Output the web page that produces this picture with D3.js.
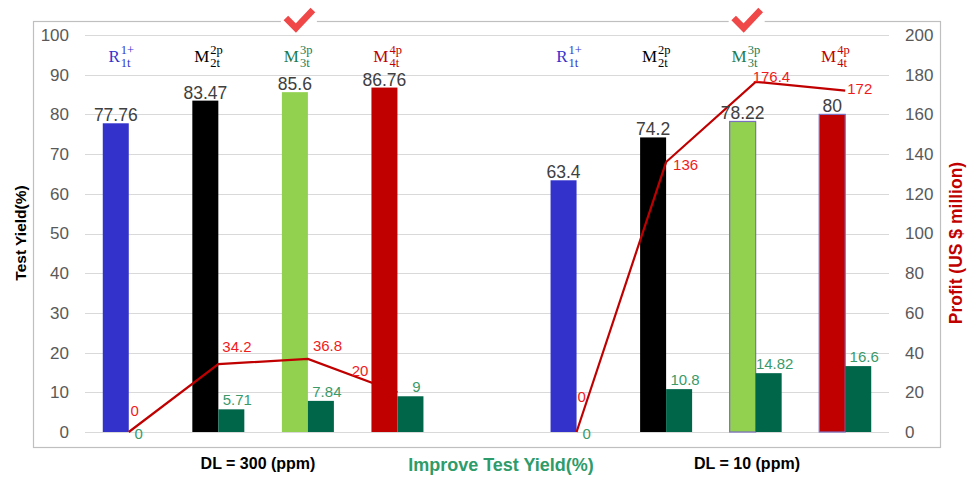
<!DOCTYPE html>
<html>
<head>
<meta charset="utf-8">
<script src="https://cdn.jsdelivr.net/npm/d3@7"></script>
<style>
  body { margin: 0; background: #fff; }
  svg { font-family: "Liberation Sans", Arial, sans-serif; }
</style>
</head>
<body>
<script>
// slots: 4 models at DL=300, an empty gap, 4 models at DL=10
const slots = ["300-R", "300-M2", "300-M3", "300-M4", "gap", "10-R", "10-M2", "10-M3", "10-M4"];
const testYield = [77.76, 83.47, 85.6, 86.76, null, 63.4, 74.2, 78.22, 80];
const improveYield = [0, 5.71, 7.84, 9, null, 0, 10.8, 14.82, 16.6];
const profit = [0, 34.2, 36.8, 20, null, 0, 136, 176.4, 172];
const modelBase = ["R", "M", "M", "M", null, "R", "M", "M", "M"];
const modelSup = ["1+", "2p", "3p", "4p", null, "1+", "2p", "3p", "4p"];
const modelSub = ["1t", "2t", "3t", "4t", null, "1t", "2t", "3t", "4t"];
const checked = ["300-M3", "10-M3"];
const yieldTicks = [0, 10, 20, 30, 40, 50, 60, 70, 80, 90, 100];
const profitTicks = [0, 20, 40, 60, 80, 100, 120, 140, 160, 180, 200];

const w = 975, h = 479;
const barColors = ["#3333cc", "#000000", "#92d050", "#c00000", null, "#3333cc", "#000000", "#92d050", "#c00000"];
const labelColors = ["#3333cc", "#000000", "#1e7b50", "#c00000", null, "#3333cc", "#000000", "#1e7b50", "#c00000"];
const outlined = [false, false, false, false, false, false, false, true, true];
// nudges for the profit labels, as excel left them
const profitLabelPos = [[6, -16, "middle"], [4, -12, "start"], [5, -8, "start"], [-29, -16, "end"], null,
  [5, -30, "middle"], [7, 8, "start"], [-3, 0, "start"], [2, 3, "start"]];

const svg = d3.select("body").append("svg")
  .attr("width", w)
  .attr("height", h);

const x = d3.scaleBand().domain(slots).range([84, 890]).padding(0);
const y = d3.scaleLinear().domain([0, 100]).range([432, 35]);
const y2 = d3.scaleLinear().domain([0, 200]).range([432, 35]);
const bw = 26;
const cx = (i) => x(slots[i]) + x.bandwidth() / 2;

// frame
svg.append("rect")
  .attr("x", 33.5).attr("y", 21.5)
  .attr("width", 907).attr("height", 426)
  .attr("fill", "none")
  .attr("stroke", "#bfbfbf")
  .attr("stroke-width", 1.2);

// gridlines
svg.append("g").selectAll("line")
  .data(yieldTicks)
  .enter().append("line")
    .attr("x1", 85).attr("x2", 889)
    .attr("y1", (d) => Math.round(y(d)) + 0.5)
    .attr("y2", (d) => Math.round(y(d)) + 0.5)
    .attr("stroke", "#d9d9d9");

const yAxis = d3.axisLeft(y).tickValues(yieldTicks).tickSize(0).tickPadding(0);
const gy = svg.append("g").attr("transform", "translate(69,0)").call(yAxis);
gy.select(".domain").remove();
gy.selectAll("text").attr("font-size", 17).attr("fill", "#595959").attr("font-family", "Liberation Sans, Arial");

const y2Axis = d3.axisRight(y2).tickValues(profitTicks).tickSize(0).tickPadding(0);
const gy2 = svg.append("g").attr("transform", "translate(905,0)").call(y2Axis);
gy2.select(".domain").remove();
gy2.selectAll("text").attr("font-size", 17).attr("fill", "#595959").attr("font-family", "Liberation Sans, Arial");

const idx = d3.range(slots.length).filter((i) => testYield[i] != null);

// test yield bars
svg.append("g").selectAll("rect")
  .data(idx)
  .enter().append("rect")
    .attr("x", (i) => cx(i) - bw)
    .attr("y", (i) => y(testYield[i]))
    .attr("width", bw)
    .attr("height", (i) => y(0) - y(testYield[i]))
    .attr("fill", (i) => barColors[i])
    .attr("stroke", (i) => outlined[i] ? "#7b6fc0" : "none")
    .attr("stroke-width", 1.2);

// improve bars
svg.append("g").selectAll("rect")
  .data(idx.filter((i) => improveYield[i] > 0))
  .enter().append("rect")
    .attr("x", (i) => cx(i))
    .attr("y", (i) => y(improveYield[i]))
    .attr("width", bw)
    .attr("height", (i) => y(0) - y(improveYield[i]))
    .attr("fill", "#00664a");

// profit line, broken at the gap
const line = d3.line()
  .defined((i) => profit[i] != null)
  .x((i) => cx(i))
  .y((i) => y2(profit[i]));
svg.append("path")
  .datum(d3.range(slots.length))
  .attr("d", line)
  .attr("fill", "none")
  .attr("stroke", "#c00000")
  .attr("stroke-width", 2.2);

// value labels
svg.append("g").selectAll("text")
  .data(idx)
  .enter().append("text")
    .attr("x", (i) => cx(i) - bw / 2)
    .attr("y", (i) => y(testYield[i]) - 2)
    .attr("text-anchor", "middle")
    .attr("font-size", 17.5)
    .attr("fill", "#404040")
    .text((i) => testYield[i]);

svg.append("g").selectAll("text")
  .data(idx)
  .enter().append("text")
    .attr("x", (i) => cx(i) + bw / 2 + (improveYield[i] > 0 ? 6 : -3))
    .attr("y", (i) => improveYield[i] > 0 ? y(improveYield[i]) - 4 : y(0) + 7)
    .attr("text-anchor", "middle")
    .attr("font-size", 15)
    .attr("fill", "#3a9a6a")
    .text((i) => improveYield[i]);

svg.append("g").selectAll("text")
  .data(idx)
  .enter().append("text")
    .attr("x", (i) => cx(i) + profitLabelPos[i][0])
    .attr("y", (i) => y2(profit[i]) + profitLabelPos[i][1])
    .attr("text-anchor", (i) => profitLabelPos[i][2])
    .attr("font-size", 15)
    .attr("fill", "#f01c1c")
    .text((i) => profit[i]);

// model names above the bars
const names = svg.append("g").selectAll("g")
  .data(idx)
  .enter().append("g")
    .attr("transform", (i) => "translate(" + (cx(i) - bw / 2 + 4) + ",0)")
    .attr("font-family", "Liberation Serif, DejaVu Serif, serif")
    .attr("fill", (i) => labelColors[i]);
names.append("text").attr("text-anchor", "end").attr("y", 62).attr("font-size", 17).text((i) => modelBase[i]);
names.append("text").attr("x", 1).attr("y", 54).attr("font-size", 12.5).text((i) => modelSup[i]);
names.append("text").attr("x", 1).attr("y", 67).attr("font-size", 12.5).text((i) => modelSub[i]);

// check marks
const checks = svg.append("g").selectAll("g")
  .data(checked)
  .enter().append("g")
    .attr("transform", (d) => "translate(" + (cx(slots.indexOf(d)) - bw / 2 + 4) + ",0)");
checks.append("rect").attr("x", -18).attr("y", 17).attr("width", 36).attr("height", 8).attr("fill", "#fff");
checks.append("path")
  .attr("d", "M-13,18 L-3,28 L14,10")
  .attr("fill", "none")
  .attr("stroke", "#f04848")
  .attr("stroke-width", 6.5);

// axis titles
svg.append("text")
  .attr("transform", "translate(26,233) rotate(-90)")
  .attr("text-anchor", "middle")
  .attr("font-size", 15.5)
  .attr("font-weight", "bold")
  .text("Test Yield(%)");

svg.append("text")
  .attr("transform", "translate(962,243) rotate(-90)")
  .attr("text-anchor", "middle")
  .attr("font-size", 17.5)
  .attr("font-weight", "bold")
  .attr("fill", "#c00000")
  .text("Profit (US $ million)");

svg.append("text")
  .attr("x", 258).attr("y", 469)
  .attr("text-anchor", "middle")
  .attr("font-size", 16)
  .attr("font-weight", "bold")
  .text("DL = 300 (ppm)");

svg.append("text")
  .attr("x", 747).attr("y", 469)
  .attr("text-anchor", "middle")
  .attr("font-size", 16)
  .attr("font-weight", "bold")
  .text("DL = 10 (ppm)");

svg.append("text")
  .attr("x", 501).attr("y", 471)
  .attr("text-anchor", "middle")
  .attr("font-size", 18)
  .attr("font-weight", "bold")
  .attr("fill", "#2e9b6a")
  .text("Improve Test Yield(%)");
</script>
</body>
</html>
